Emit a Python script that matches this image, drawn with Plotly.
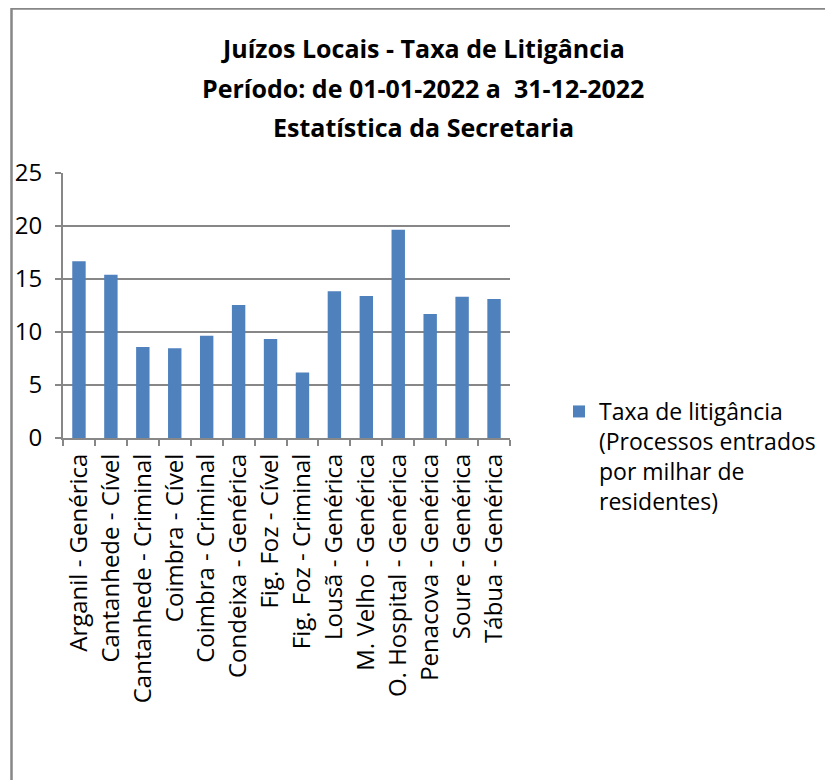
import plotly.graph_objects as go

# Data
categories = [
    'Arganil - Genérica', 'Cantanhede - Cível', 'Cantanhede - Criminal',
    'Coimbra - Cível', 'Coimbra - Criminal', 'Condeixa - Genérica',
    'Fig. Foz - Cível', 'Fig. Foz - Criminal', 'Lousã - Genérica',
    'M. Velho - Genérica', 'O. Hospital - Genérica', 'Penacova - Genérica',
    'Soure - Genérica', 'Tábua - Genérica',
]
taxa_litigancia = [16.67, 15.41, 8.58, 8.46, 9.65, 12.55, 9.34,
                   6.19, 13.84, 13.40, 19.65, 11.70, 13.33, 13.11]
series_name = 'Taxa de litigância<br>(Processos entrados<br>por milhar de<br>residentes)'
title_lines = [
    'Juízos Locais - Taxa de Litigância',
    'Período: de 01-01-2022 a \u00a031-12-2022',
    'Estatística da Secretaria',
]

FONT = 'Open Sans'
GRAY = '#878787'

fig = go.Figure()

fig.add_trace(go.Bar(
    x=categories,
    y=taxa_litigancia,
    name=series_name,
    marker=dict(color='#4F81BD', line=dict(width=0)),
    showlegend=True,
))

# figure sits 8px in from the page corner (body margin), so pixel
# positions below are the reference's minus 8
W, H = 825, 772
L, R, T, B = 55, 502, 165, 430
pw, ph = R - L, B - T


def px_x(x):
    return (x - L) / pw


def px_y(y):
    return (B - y) / ph


# title lines (annotations for control of line spacing)
for txt, ypix in zip(title_lines, [40, 80, 119]):
    fig.add_annotation(
        text=f'<b>{txt}</b>', xref='paper', yref='paper',
        x=px_x(415), y=px_y(ypix), xanchor='center', yanchor='middle',
        showarrow=False, font=dict(family=FONT, size=25, color='black'),
    )

# outer chart border (runs past the right/bottom edge like the reference)
fig.add_shape(
    type='rect', xref='paper', yref='paper',
    x0=px_x(3.5), x1=px_x(860), y0=px_y(820), y1=px_y(0.5),
    line=dict(color=GRAY, width=2.5), fillcolor='rgba(0,0,0,0)', layer='below',
)

fig.update_layout(
    width=W, height=H,
    margin=dict(l=L, r=W - R, t=T, b=H - B, autoexpand=False),
    paper_bgcolor='white',
    plot_bgcolor='white',
    font=dict(family=FONT, size=24, color='black'),
    bargap=0.58,
    legend=dict(
        x=px_x(551), y=px_y(382), xanchor='left', yanchor='top',
        valign='top', font=dict(family=FONT, size=23, color='black'),
        itemwidth=30, tracegroupgap=0,
    ),
)

fig.update_xaxes(
    type='category',
    tickangle=-90,
    showline=True, linecolor=GRAY, linewidth=2,
    ticks='outside', tickson='boundaries', ticklen=6, tickcolor=GRAY, tickwidth=2,
    showgrid=False,
    ticklabelstandoff=4,
    tickfont=dict(family=FONT, size=24),
)

fig.update_yaxes(
    range=[0, 25], dtick=5,
    showline=True, linecolor=GRAY, linewidth=2,
    ticks='outside', ticklen=6, tickcolor=GRAY, tickwidth=2,
    showgrid=True, gridcolor=GRAY, gridwidth=2,
    zeroline=False,
    ticklabelstandoff=8,
    tickfont=dict(family=FONT, size=24),
)

fig.write_html('out.html')
